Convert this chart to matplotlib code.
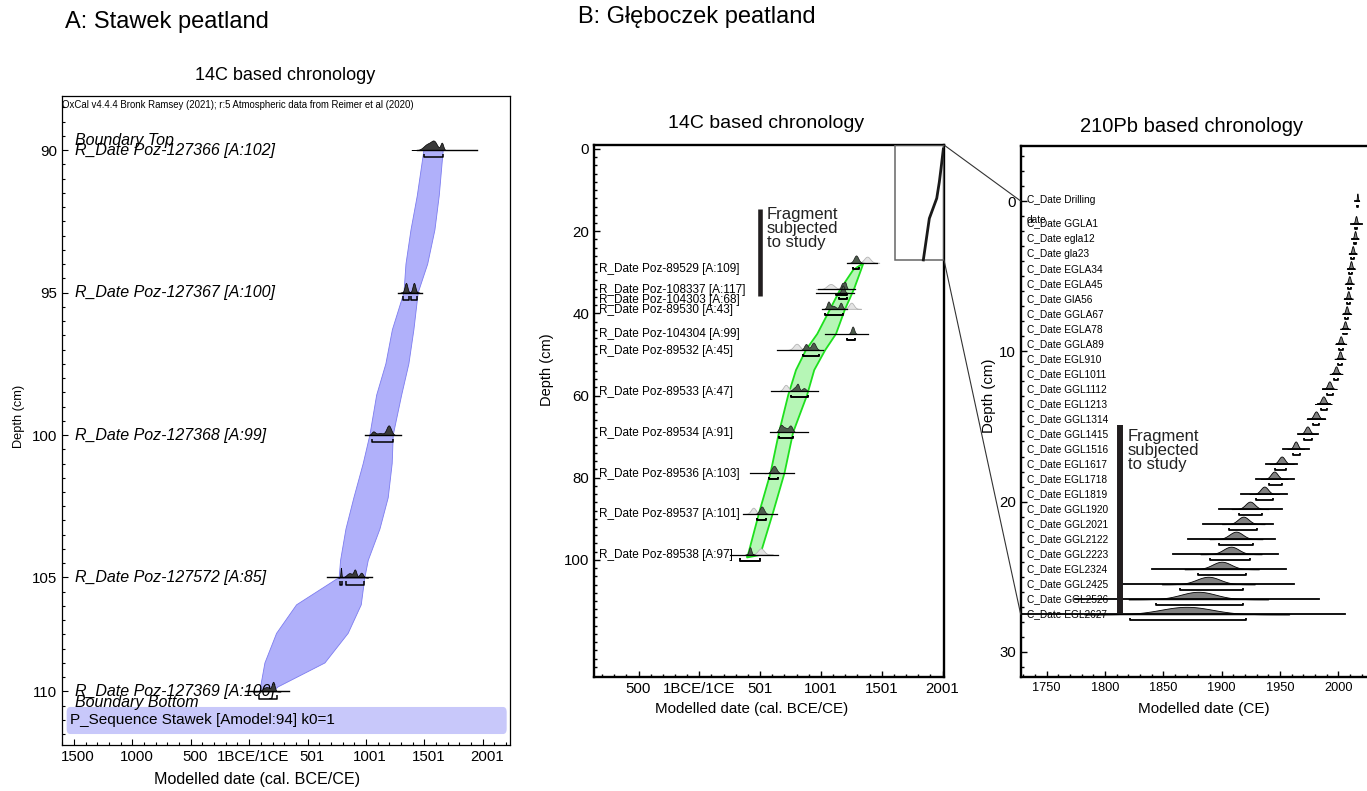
import numpy as np
import matplotlib
matplotlib.use('Agg')
from matplotlib import pyplot as plt
import matplotlib.transforms as mtransforms
from matplotlib.patches import Rectangle, FancyBboxPatch, ConnectionPatch

plt.rcParams['font.family'] = ['Liberation Sans', 'DejaVu Sans']

# ---------------- A: Stawek peatland, 14C ----------------
a_labels = ['R_Date Poz-127366 [A:102]', 'R_Date Poz-127367 [A:100]',
            'R_Date Poz-127368 [A:99]', 'R_Date Poz-127572 [A:85]',
            'R_Date Poz-127369 [A:100]']
a_depth = [90, 95, 100, 105, 110]
a_line_lo = [1434, 1277, 991, 668, -37]
a_line_hi = [1949, 1477, 1297, 1049, 343]
a_brackets = [[(1497, 1662)], [(1314, 1371), (1386, 1434)], [(1049, 1234)],
              [(780, 792), (829, 985)], [(86, 235)]]
# posterior peaks: (centre, sd, weight)
a_peaks = [[(1530, 35, 0.8), (1585, 25, 1.0), (1650, 12, 0.95)],
           [(1343, 12, 1.0), (1411, 12, 1.0)],
           [(1063, 15, 0.35), (1120, 30, 0.2), (1195, 20, 1.0)],
           [(786, 4, 1.0), (860, 25, 0.45), (906, 12, 0.75), (960, 15, 0.5)],
           [(150, 30, 0.5), (206, 12, 1.0)]]
a_boundary_labels = ['Boundary Top', 'Boundary Bottom']
a_boundary_depth = [89.65, 110.49]

a_band_depth = [90, 91.6, 92.8, 94, 95, 96.3, 97.5, 98.6, 100, 101, 102.2,
                103.3, 104.4, 105, 106.2, 107.45, 108.75, 109.8, 110]
a_band_lo = [1497, 1440, 1386, 1343, 1326, 1227, 1171, 1092, 1034, 977, 897,
             829, 783, 771, 406, 235, 135, 98, 92]
a_band_hi = [1662, 1628, 1591, 1529, 1448, 1411, 1368, 1306, 1234, 1225, 1191,
             1120, 1020, 991, 960, 848, 649, 248, 203]

a_xticks = [-1500, -1000, -500, 0, 500, 1000, 1500, 2000]
a_xticklabels = ['1500', '1000', '500', '1BCE/1CE', '501', '1001', '1501', '2001']

# ---------------- B: Gleboczek peatland, 14C ----------------
b_labels = ['R_Date Poz-89529 [A:109]', 'R_Date Poz-108337 [A:117]',
            'R_Date Poz-104303 [A:68]', 'R_Date Poz-89530 [A:43]',
            'R_Date Poz-104304 [A:99]', 'R_Date Poz-89532 [A:45]',
            'R_Date Poz-89533 [A:47]', 'R_Date Poz-89534 [A:91]',
            'R_Date Poz-89536 [A:103]', 'R_Date Poz-89537 [A:101]',
            'R_Date Poz-89538 [A:97]']
b_label_depth = [29.3, 34.3, 36.7, 39.1, 45.1, 49.1, 59.2, 69.2, 79.2, 88.9, 98.9]
b_depth = [27.7, 34.1, 35.0, 38.9, 45.0, 48.9, 58.9, 68.9, 78.9, 88.8, 98.7]
b_line_lo = [1212, 979, 960, 1007, 1034, 636, 590, 580, 417, 362, 252]
b_line_hi = [1464, 1280, 1272, 1212, 1390, 1020, 978, 895, 781, 636, 645]
b_br_lo = [1261, 1124, 1150, 1034, 1217, 850, 752, 658, 576, 472, 335]
b_br_hi = [1316, 1212, 1212, 1184, 1280, 987, 897, 768, 650, 549, 499]
b_post = [[(1289, 18, 1.0)],
          [(1175, 10, 0.8), (1198, 10, 1.0)],
          [(1180, 12, 0.7)],
          [(1061, 12, 0.9), (1100, 20, 0.4), (1163, 12, 0.8)],
          [(1261, 12, 1.0)],
          [(877, 15, 0.8), (938, 18, 1.0)],
          [(790, 20, 0.8), (810, 10, 1.0), (860, 15, 0.6)],
          [(670, 15, 0.9), (705, 20, 0.6), (750, 15, 0.9)],
          [(614, 20, 1.0)],
          [(513, 18, 1.0)],
          [(417, 10, 1.0)]]
b_like = [[(1380, 25, 0.4)],
          [(1080, 30, 0.5), (1180, 15, 0.6)],
          [],
          [(1250, 20, 0.3)],
          [],
          [(800, 25, 0.6)],
          [(711, 20, 0.8)],
          [],
          [],
          [(444, 20, 0.7)],
          [(506, 25, 0.6)]]

b_band_depth = [27.8, 29.4, 34.1, 39.0, 45.0, 48.9, 53.8, 59.9, 69.0, 78.8, 88.6, 98.8, 99.4]
b_band_lo = [1349, 1266, 1160, 1075, 970, 877, 795, 731, 655, 586, 491, 400, 390]
b_band_hi = [1349, 1330, 1272, 1198, 1124, 1036, 945, 886, 771, 701, 605, 500, 395]

b_xticks = [-500, 0, 500, 1000, 1500, 2000]
b_xticklabels = ['500', '1BCE/1CE', '501', '1001', '1501', '2001']

# 210Pb age-depth shown in the zoom box of the 14C panel
inset_date = [2006.6, 1987.7, 1973.7, 1952.3, 1891.4, 1842.1]
inset_depth = [0, 4.7, 8.0, 12.0, 16.9, 27.0]

# ---------------- B: 210Pb ----------------
pb_labels = ['C_Date Drilling\ndate', 'C_Date GGLA1', 'C_Date egla12', 'C_Date gla23',
             'C_Date EGLA34', 'C_Date EGLA45', 'C_Date GlA56', 'C_Date GGLA67',
             'C_Date EGLA78', 'C_Date GGLA89', 'C_Date EGL910', 'C_Date EGL1011',
             'C_Date GGL1112', 'C_Date EGL1213', 'C_Date GGL1314', 'C_Date GGL1415',
             'C_Date GGL1516', 'C_Date EGL1617', 'C_Date EGL1718', 'C_Date EGL1819',
             'C_Date GGL1920', 'C_Date GGL2021', 'C_Date GGL2122', 'C_Date GGL2223',
             'C_Date EGL2324', 'C_Date GGL2425', 'C_Date GGL2526', 'C_Date EGL2627']
pb_depth = [0, 1.5, 2.5, 3.5, 4.5, 5.5, 6.5, 7.5, 8.5, 9.5, 10.5, 11.5, 12.5, 13.5,
            14.5, 15.5, 16.5, 17.5, 18.5, 19.5, 20.5, 21.5, 22.5, 23.5, 24.5, 25.5,
            26.5, 27.5]
pb_mean = [2016.3, 2015.1, 2014.3, 2012.3, 2010.8, 2009.4, 2008.5, 2007.1, 2005.7,
           2002.0, 2001.4, 1998.0, 1992.3, 1987.1, 1980.8, 1973.4, 1963.4, 1951.4,
           1945.0, 1936.5, 1924.3, 1918.5, 1912.3, 1908.0, 1900.0, 1888.5, 1880.0,
           1870.0]
pb_sd = [0.4, 0.8, 0.8, 0.9, 0.9, 1.0, 1.0, 1.0, 1.1, 1.2, 1.2, 1.4, 1.6, 1.8, 2.0,
         2.0, 1.8, 2.6, 2.9, 3.2, 4.0, 4.6, 5.7, 6.6, 8.0, 10.0, 15.0, 22.0]
pb_line_lo = [2014.6, 2010.6, 2011.3, 2010.0, 2008.5, 2007.0, 2006.0, 2005.0, 2003.7,
              1998.5, 1999.4, 1995.7, 1987.0, 1982.8, 1974.0, 1965.1, 1952.8, 1937.7,
              1929.4, 1916.6, 1898.0, 1884.0, 1871.4, 1858.5, 1840.0, 1814.3, 1774.0,
              1700.0]
pb_line_hi = [2018.0, 2020.0, 2017.0, 2015.0, 2013.4, 2012.0, 2011.0, 2010.0, 2008.5,
              2004.6, 2004.2, 2001.4, 1995.7, 1993.0, 1988.6, 1982.8, 1974.8, 1964.3,
              1962.0, 1956.3, 1951.4, 1944.0, 1946.0, 1948.0, 1954.9, 1962.2, 1983.5,
              2006.0]
pb_br_lo = [2015.9, 2014.0, 2013.0, 2011.0, 2009.5, 2008.0, 2007.0, 2005.6, 2004.0,
            2000.2, 1999.5, 1996.0, 1990.0, 1985.0, 1978.5, 1970.5, 1960.8, 1946.0,
            1940.3, 1929.1, 1915.1, 1906.5, 1898.0, 1890.0, 1880.0, 1864.3, 1843.4,
            1821.5]
pb_br_hi = [2016.7, 2016.0, 2015.5, 2013.5, 2012.0, 2010.8, 2010.0, 2008.6, 2007.4,
            2003.8, 2003.3, 2000.0, 1995.0, 1990.0, 1983.5, 1977.1, 1967.1, 1955.1,
            1951.4, 1944.2, 1934.5, 1930.0, 1926.6, 1924.3, 1920.8, 1918.0, 1918.3,
            1920.6]

frag14_date, frag14_depth = 499, (14.6, 35.7)
fragpb_date, fragpb_depth = 1812.4, (14.9, 27.4)


def peak_shape(peaks, n=300):
    lo = min(c - 4 * s for c, s, w in peaks)
    hi = max(c + 4 * s for c, s, w in peaks)
    x = np.linspace(lo, hi, n)
    y = np.zeros_like(x)
    for c, s, w in peaks:
        y += w * np.exp(-0.5 * ((x - c) / s) ** 2)
    return x, y / y.max()


def a_fwd(d):
    d = np.asarray(d, dtype=float)
    return np.where(d <= 105, d, 105 + (d - 105) * 0.8)


def a_inv(t):
    t = np.asarray(t, dtype=float)
    return np.where(t <= 105, t, 105 + (t - 105) / 0.8)


def bracket(ax, lo, hi, y, ytick, lw=1.3):
    ax.plot([lo, lo, hi, hi], [ytick, y, y, ytick], color='black', lw=lw,
            solid_capstyle='butt', zorder=6)


W, H = 1367, 791
fig = plt.figure(figsize=(W / 100, H / 100), dpi=100)


def axes_px(x0, y0, x1, y1):
    return fig.add_axes([x0 / W, 1 - y1 / H, (x1 - x0) / W, (y1 - y0) / H])


# ================= panel A =================
ax_a = axes_px(62, 96, 510, 745)
ax_a.set_yscale('function', functions=(a_fwd, a_inv))
ax_a.set_xlim(-1603, 2234)
ax_a.set_ylim(112.35, 88.1)

ax_a.fill(np.r_[a_band_lo, a_band_hi[::-1]], np.r_[a_band_depth, a_band_depth[::-1]],
          facecolor='#b0b0fa', edgecolor='#7c7cf0', lw=0.6, zorder=1)

for i in range(len(a_depth)):
    d = a_depth[i]
    t = float(a_fwd(d))
    x, dens = peak_shape(a_peaks[i])
    ax_a.fill_between(x, a_inv(t - 0.34 * dens), d, facecolor='#3a3a3a',
                      edgecolor='black', lw=0.5, zorder=4)
    ax_a.plot([a_line_lo[i], a_line_hi[i]], [d, d], color='black', lw=1.0, zorder=5)
    for lo, hi in a_brackets[i]:
        bracket(ax_a, lo, hi, float(a_inv(t + 0.25)), float(a_inv(t + 0.13)), lw=1.1)
    ax_a.text(0.029, d, a_labels[i], transform=ax_a.get_yaxis_transform(),
              fontsize=11.5, style='italic', va='center', zorder=3)
for lab, d in zip(a_boundary_labels, a_boundary_depth):
    ax_a.text(0.029, d, lab, transform=ax_a.get_yaxis_transform(),
              fontsize=11.5, style='italic', va='center', zorder=3)

seq = FancyBboxPatch((0.0104, 0.0169), 0.9822, 0.0417,
                     boxstyle='round,pad=0,rounding_size=0.008',
                     transform=ax_a.transAxes, facecolor='#c8c8fa', edgecolor='none', zorder=0)
ax_a.add_patch(seq)
ax_a.text(0.018, 0.0385, 'P_Sequence Stawek [Amodel:94] k0=1', transform=ax_a.transAxes,
          fontsize=11, va='center', zorder=3)
ax_a.text(0.0, 0.986, 'OxCal v4.4.4 Bronk Ramsey (2021); r:5 Atmospheric data from Reimer et al (2020)',
          transform=ax_a.transAxes, fontsize=6.9, va='center')

ax_a.set_xticks(a_xticks)
ax_a.set_xticklabels(a_xticklabels)
ax_a.set_xticks(np.arange(-1600, 2201, 100), minor=True)
ax_a.set_yticks(a_depth)
ax_a.set_yticks(a_inv(np.arange(88.5, 111.0, 0.5)), minor=True)
ax_a.tick_params(which='both', direction='in', labelsize=10.8, width=0.8, top=False, right=False)
ax_a.tick_params(which='major', length=4.5)
ax_a.tick_params(which='minor', length=2.5)
shift = mtransforms.ScaledTranslation(4 / 100, 0, fig.dpi_scale_trans)
for lab in ax_a.get_xticklabels():
    lab.set_transform(lab.get_transform() + shift)
for sp in ax_a.spines.values():
    sp.set_linewidth(0.9)
ax_a.set_xlabel('Modelled date (cal. BCE/CE)', fontsize=11.6)
ax_a.xaxis.set_label_coords(0.436, -0.041)
ax_a.set_ylabel('Depth (cm)', fontsize=9.2)
ax_a.yaxis.set_label_coords(-0.083, 0.506)

# ================= panel B, 14C =================
ax_b = axes_px(594, 145, 944, 677)
ax_b.set_xlim(-866, 2012)
ax_b.set_ylim(128.5, -0.97)

ax_b.fill(np.r_[b_band_lo, b_band_hi[::-1]], np.r_[b_band_depth, b_band_depth[::-1]],
          facecolor='#b6f6b6', edgecolor='#1ee01e', lw=1.3, zorder=1)

for i in range(len(b_depth)):
    d = b_depth[i]
    if b_like[i]:
        x, dens = peak_shape(b_like[i])
        ax_b.fill_between(x, d - 1.5 * dens, d, facecolor='#e4e4e4',
                          edgecolor='#b4b4b4', lw=0.6, zorder=3)
    x, dens = peak_shape(b_post[i])
    ax_b.fill_between(x, d - 1.8 * dens, d, facecolor='#4c5c4c',
                      edgecolor='#1a1a1a', lw=0.5, zorder=4)
    ax_b.plot([b_line_lo[i], b_line_hi[i]], [d, d], color='black', lw=0.9, zorder=5)
    bracket(ax_b, b_br_lo[i], b_br_hi[i], d + 1.45, d + 0.9, lw=1.4)
    ax_b.text(0.015, b_label_depth[i], b_labels[i], transform=ax_b.get_yaxis_transform(),
              fontsize=8.5, va='center', zorder=2)

ax_b.plot([frag14_date, frag14_date], frag14_depth, color='#221e1f', lw=3.3,
          solid_capstyle='butt', zorder=5)
ax_b.text(554, frag14_depth[0] - 0.4, 'Fragment\nsubjected\nto study', fontsize=12,
          va='top', ha='left', linespacing=0.9, color='#222222')

ax_b.add_patch(Rectangle((1609, -0.97), 2012 - 1609, 27 + 0.97, facecolor='none',
                         edgecolor='#666666', lw=1.1, zorder=6))
ax_b.plot(inset_date, inset_depth, color='#1a1a1a', lw=2.0, zorder=7)

ax_b.set_xticks(b_xticks)
ax_b.set_xticklabels(b_xticklabels)
ax_b.set_xticks(np.arange(-800, 2001, 100), minor=True)
ax_b.set_yticks([0, 20, 40, 60, 80, 100])
ax_b.set_yticks(np.arange(0, 128, 2), minor=True)
ax_b.tick_params(which='both', direction='in', labelsize=10.8, width=1.0, top=False, right=False)
ax_b.tick_params(which='major', length=4)
ax_b.tick_params(which='minor', length=2.3)
for sp in ax_b.spines.values():
    sp.set_linewidth(1.7)
ax_b.set_xlabel('Modelled date (cal. BCE/CE)', fontsize=10.9)
ax_b.xaxis.set_label_coords(0.449, -0.047)
ax_b.set_ylabel('Depth (cm)', fontsize=10.5)
ax_b.yaxis.set_label_coords(-0.113, 0.577)

# ================= panel B, 210Pb =================
ax_p = axes_px(1020.7, 145.7, 1373.5, 677.3)
ax_p.set_xlim(1727.7, 2030.1)
ax_p.set_ylim(31.69, -3.68)

for i in range(len(pb_depth)):
    d = pb_depth[i]
    x, dens = peak_shape([(pb_mean[i], pb_sd[i], 1.0)])
    ax_p.fill_between(x, d - 0.5 * dens, d, facecolor='#808080', edgecolor='black',
                      lw=0.6, zorder=4)
    ax_p.plot([max(pb_line_lo[i], 1727.7), pb_line_hi[i]], [d, d], color='black',
              lw=1.3, zorder=5)
    bracket(ax_p, pb_br_lo[i], pb_br_hi[i], d + 0.38, d + 0.25, lw=1.3)
    if '\n' in pb_labels[i]:
        ax_p.text(0.017, d - 0.42, pb_labels[i], transform=ax_p.get_yaxis_transform(),
                  fontsize=7.3, va='top', linespacing=2.3, zorder=3)
    else:
        ax_p.text(0.017, d, pb_labels[i], transform=ax_p.get_yaxis_transform(),
                  fontsize=7.3, va='center', zorder=3)

ax_p.plot([fragpb_date, fragpb_date], fragpb_depth, color='#221e1f', lw=4.3,
          solid_capstyle='butt', zorder=6)
ax_p.text(1819.4, fragpb_depth[0] + 0.3, 'Fragment\nsubjected\nto study', fontsize=12,
          va='top', ha='left', linespacing=0.9, color='#222222')

ax_p.set_xticks([1750, 1800, 1850, 1900, 1950, 2000])
ax_p.set_xticks(np.arange(1730, 2031, 10), minor=True)
ax_p.set_yticks([0, 10, 20, 30])
ax_p.set_yticks(np.arange(-3, 32, 1), minor=True)
ax_p.tick_params(axis='x', labelsize=9.2)
ax_p.tick_params(axis='y', labelsize=10.8)
ax_p.tick_params(which='both', direction='in', width=1.0, top=False, right=False)
ax_p.tick_params(which='major', length=4)
ax_p.tick_params(which='minor', length=2.3)
for sp in ax_p.spines.values():
    sp.set_linewidth(1.7)
ax_p.set_xlabel('Modelled date (CE)', fontsize=11)
ax_p.xaxis.set_label_coords(0.519, -0.046)
ax_p.set_ylabel('Depth (cm)', fontsize=10.8)
ax_p.yaxis.set_label_coords(-0.0686, 0.529)

# zoom connectors between the 14C box and the 210Pb axes
for ya, yb in [(-0.97, 0), (27, 27.5)]:
    con = ConnectionPatch(xyA=(1, ya), coordsA=ax_b.get_yaxis_transform(),
                          xyB=(0, yb), coordsB=ax_p.get_yaxis_transform(),
                          color='#333333', lw=0.8)
    fig.add_artist(con)

# titles
fig.text(65 / W, 1 - 22 / H, 'A: Stawek peatland', fontsize=17, va='center')
fig.text(578 / W, 1 - 17 / H, 'B: Głęboczek peatland', fontsize=17, va='center')
fig.text(285 / W, 1 - 75 / H, '14C based chronology', fontsize=13, ha='center', va='center')
fig.text(766 / W, 1 - 124 / H, '14C based chronology', fontsize=14, ha='center', va='center')
fig.text(1192 / W, 1 - 126 / H, '210Pb based chronology', fontsize=14.5, ha='center', va='center')

fig.savefig('out.png', dpi=100)
